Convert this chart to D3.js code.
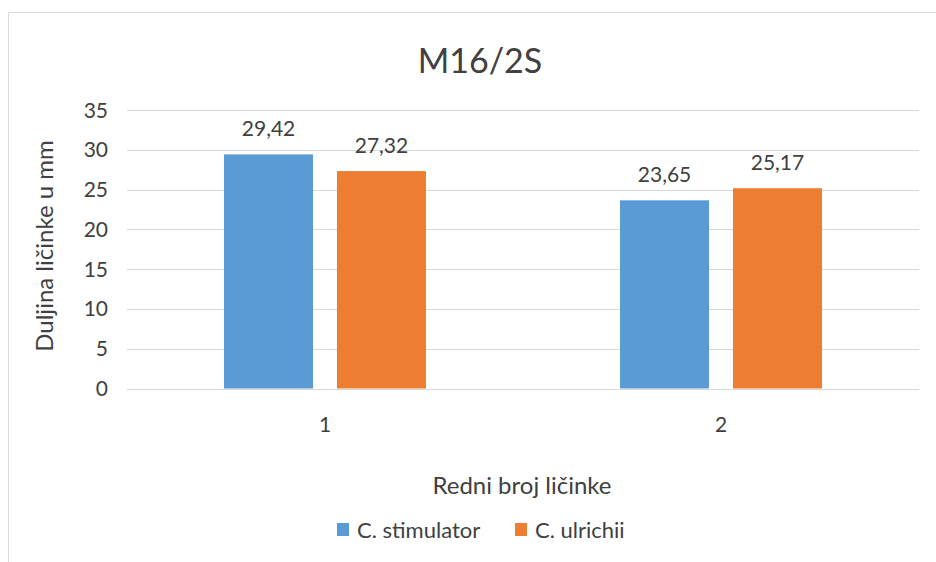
<!DOCTYPE html>
<html>
<head>
<meta charset="utf-8">
<script src="https://cdn.jsdelivr.net/npm/d3@7"></script>
<style>
  body { margin: 0; background: #fff; }
  text { font-family: Lato, "Open Sans", sans-serif; fill: #404040; }
</style>
</head>
<body>
<script>
const categories = ["1", "2"];
const seriesNames = ["C. stimulator", "C. ulrichii"];
const stimulator = [29.42, 23.65];
const ulrichii = [27.32, 25.17];
const yTicks = [0, 5, 10, 15, 20, 25, 30, 35];
const colours = ["#5B9BD5", "#ED7D31"];

const width = 936, height = 562;
const svg = d3.select("body").append("svg")
    .attr("width", width).attr("height", height);

// chart frame (only top and left edges are inside the window)
svg.append("path")
    .attr("d", "M8.5,600V12.5H940")
    .attr("fill", "none").attr("stroke", "#d9d9d9");

const plotLeft = 127, plotRight = 919, plotTop = 110, plotBottom = 388.5;

const y = d3.scaleLinear().domain([0, 35]).range([plotBottom, plotTop]);
const x0 = d3.scaleBand().domain(categories).range([plotLeft, plotRight])
    .paddingInner(0.49).paddingOuter(0.245);
const x1 = d3.scaleBand().domain(seriesNames).range([0, x0.bandwidth()])
    .paddingInner(0.212).paddingOuter(0);

// gridlines
svg.append("g").selectAll("line").data(yTicks).join("line")
    .attr("x1", plotLeft).attr("x2", plotRight)
    .attr("y1", d => Math.round(y(d)) + 0.5).attr("y2", d => Math.round(y(d)) + 0.5)
    .attr("stroke", "#d9d9d9");

// y tick labels
svg.append("g").selectAll("text").data(yTicks).join("text")
    .attr("x", 108).attr("y", d => y(d))
    .attr("dy", "0.36em").attr("text-anchor", "end")
    .attr("font-size", 21).text(d => d);

// bars
const rows = categories.map((c, i) => ({ cat: c, values: [stimulator[i], ulrichii[i]] }));
const groups = svg.append("g").selectAll("g").data(rows).join("g")
    .attr("transform", d => `translate(${x0(d.cat)},0)`);

groups.selectAll("rect").data(d => d.values.map((v, j) => ({ name: seriesNames[j], v, j })))
    .join("rect")
    .attr("x", d => x1(d.name)).attr("width", x1.bandwidth())
    .attr("y", d => y(d.v)).attr("height", d => y(0) - y(d.v))
    .attr("fill", d => colours[d.j]);

groups.selectAll("text").data(d => d.values.map((v, j) => ({ name: seriesNames[j], v, j })))
    .join("text")
    .attr("x", d => x1(d.name) + x1.bandwidth() / 2)
    .attr("y", d => y(d.v) - 18)
    .attr("text-anchor", "middle").attr("font-size", 21)
    .text(d => d3.format(".2f")(d.v).replace(".", ","));

// x tick labels
svg.append("g").selectAll("text").data(categories).join("text")
    .attr("x", d => x0(d) + x0.bandwidth() / 2).attr("y", 432)
    .attr("text-anchor", "middle").attr("font-size", 21).text(d => d);

// titles
svg.append("text").attr("x", 480).attr("y", 73)
    .attr("text-anchor", "middle").attr("font-size", 34).text("M16/2S");

svg.append("text").attr("x", 522).attr("y", 494)
    .attr("text-anchor", "middle").attr("font-size", 24).text("Redni broj ličinke");

svg.append("text")
    .attr("transform", "translate(53,246) rotate(-90)")
    .attr("text-anchor", "middle").attr("font-size", 24).text("Duljina ličinke u mm");

// legend
const legendX = [337, 515];
const legend = svg.append("g").selectAll("g").data(seriesNames).join("g")
    .attr("transform", (d, i) => `translate(${legendX[i]},523)`);
legend.append("rect").attr("width", 12).attr("height", 13)
    .attr("fill", (d, i) => colours[i]);
legend.append("text").attr("x", 20).attr("y", 7).attr("dy", "0.36em")
    .attr("font-size", 22).text(d => d);
</script>
</body>
</html>
